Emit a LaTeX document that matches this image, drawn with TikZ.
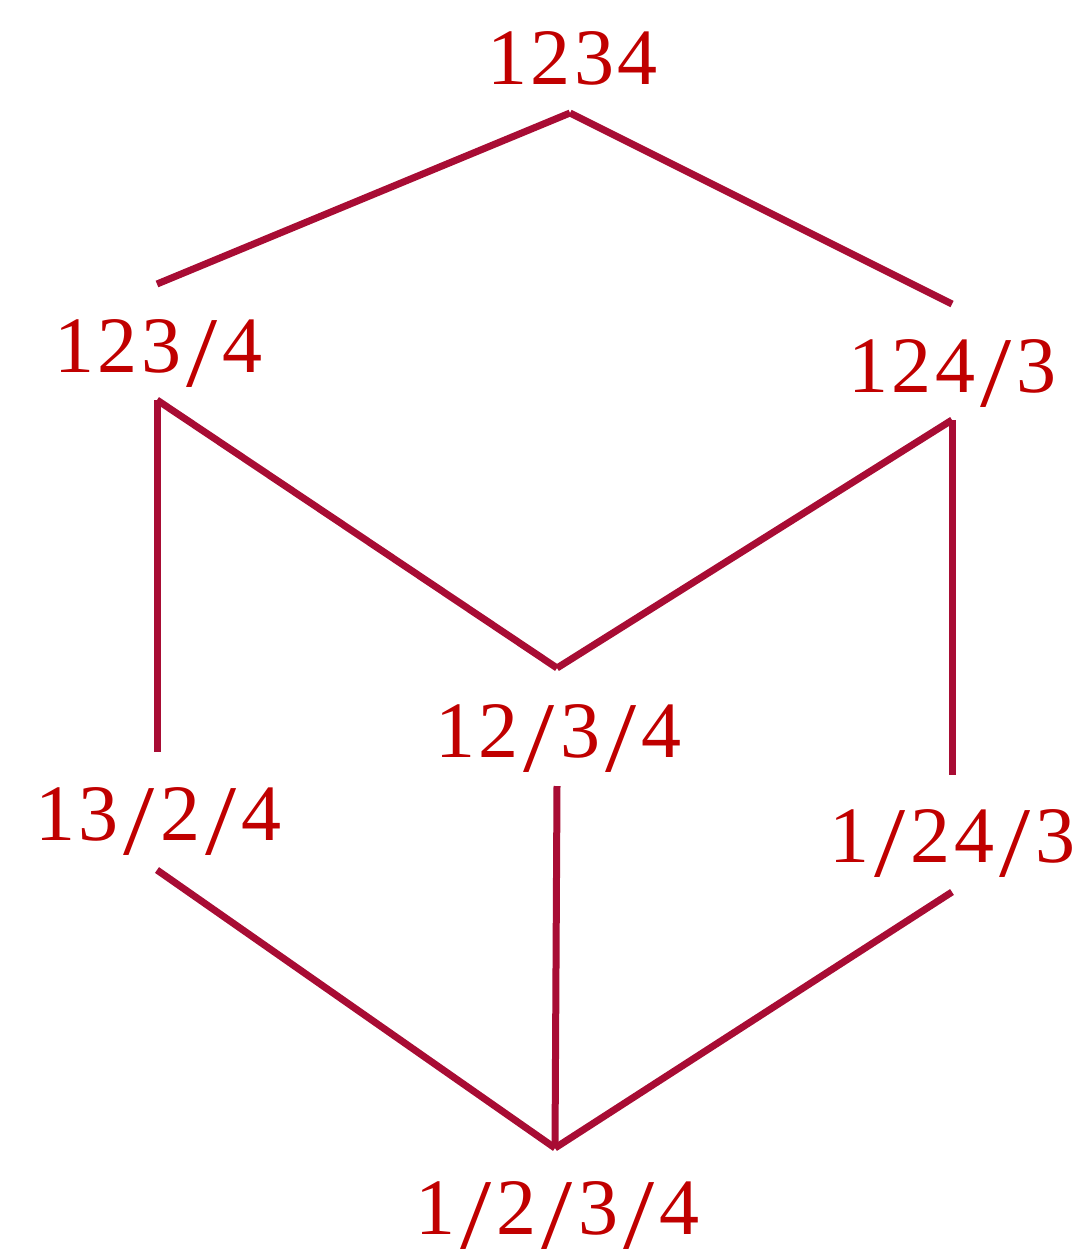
\documentclass[tikz,border=0pt]{standalone}
\usepackage{graphicx}
\usepackage{fontspec}
\setmainfont{Liberation Serif}[LetterSpace=4]
\definecolor{labelred}{RGB}{192,0,0}
\definecolor{linered}{RGB}{168,12,52}
\newcommand{\sls}{\kern5pt\raisebox{-14pt}{\scalebox{1.4}[1.25]{/}}\kern5pt}
\tikzset{
  lbl/.style={anchor=base, inner sep=0pt, text=labelred, font=\fontsize{80}{82}\selectfont},
  edge/.style={draw=linered, line width=7pt, line cap=butt}
}
\begin{document}
\begin{tikzpicture}[x=1pt,y=-1pt]
\useasboundingbox (0,0) rectangle (1089,1258);
% labels
\node[lbl] (n1234) at (572.5,84) {1234};
\node[lbl] (n1234a) at (158.5,372) {123\sls4};
\node[lbl] (n1243) at (952.5,392) {124\sls3};
\node[lbl] (n1234b) at (558.5,757) {12\sls3\sls4};
\node[lbl] (n1324) at (158.5,840) {13\sls2\sls4};
\node[lbl] (n1243b) at (952.5,862) {1\sls24\sls3};
\node[lbl] (nbot) at (557.5,1234) {1\sls2\sls3\sls4};
% connector ends
\coordinate (top) at (570,113);
\coordinate (a1) at (157,284);
\coordinate (a2) at (952,304);
\coordinate (b1) at (157,400);
\coordinate (c1) at (157,752);
\coordinate (b2) at (952,420);
\coordinate (c2) at (952,775);
\coordinate (m) at (557,668);
\coordinate (d) at (557,786);
\coordinate (e1) at (157,870);
\coordinate (e2) at (952,892);
\coordinate (bot) at (555,1148);
% connectors
\draw[edge] (top) -- (a1);
\draw[edge] (top) -- (a2);
\draw[edge] (b1) -- (c1);
\draw[edge] (b1) -- (m);
\draw[edge] (b2) -- (m);
\draw[edge] (b2) -- (c2);
\draw[edge] (d) -- (bot);
\draw[edge] (e1) -- (bot);
\draw[edge] (e2) -- (bot);
\end{tikzpicture}
\end{document}
